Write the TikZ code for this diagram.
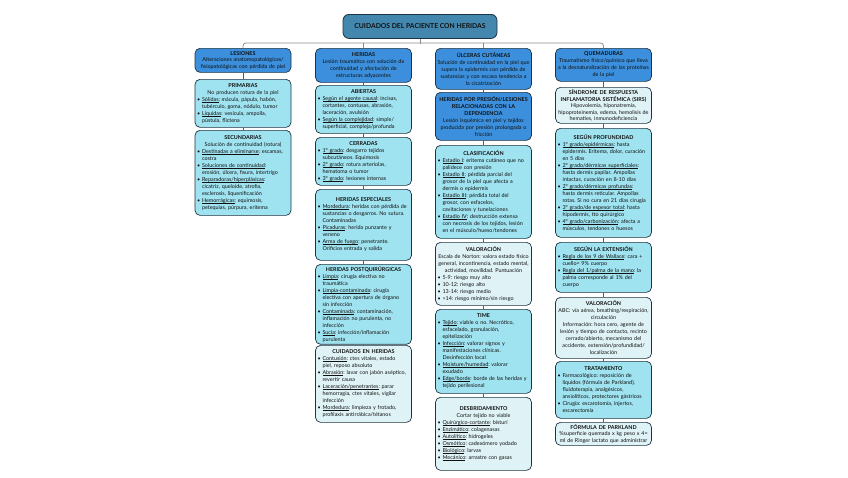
\documentclass[tikz,border=0pt]{standalone}
\usepackage{fontspec}
\setmainfont{Lato}
\usetikzlibrary{calc}
\definecolor{titlefill}{HTML}{4387AE}
\definecolor{headfill}{HTML}{3B8FDC}
\definecolor{cyanfill}{HTML}{A0E3F0}
\definecolor{lightfill}{HTML}{DFF3F7}
\definecolor{edgecol}{HTML}{1E3442}
\definecolor{txt}{HTML}{111111}
\definecolor{buscol}{HTML}{8C8C8C}
\frenchspacing
\newcommand{\uln}[1]{\setbox0\hbox{#1}\rlap{\rule[-0.9pt]{\wd0}{0.35pt}}\box0}
\newcommand{\bitem}[1]{{\let\\\newline\par\hangindent=5pt\hangafter=1\noindent\makebox[5pt][l]{\textbullet}#1\par}}
\newcommand{\ctr}[1]{{\centering #1\par}}
\newcommand{\ttl}[1]{{\centering\bfseries #1\par}}
\tikzset{
  box/.style={draw=edgecol, line width=0.7pt, rounded corners=5pt, text width=92pt,
    inner xsep=2pt, inner ysep=2pt, align=left, text=txt, anchor=north,
    font=\fontsize{5.4}{7}\selectfont\frenchspacing},
  tight/.style={inner ysep=1pt, font=\fontsize{5.4}{6.5}\selectfont\frenchspacing},
  cbox/.style={box, fill=cyanfill},
  lbox/.style={box, fill=lightfill},
  hbox/.style={box, fill=headfill},
  link/.style={draw=edgecol!80, line width=0.6pt},
  bus/.style={draw=buscol, line width=0.8pt, rounded corners=3pt}
}
\begin{document}
\begin{tikzpicture}[x=1pt, y=1pt]
\useasboundingbox[fill=white] (0,0) rectangle (848,-477);
% title
\node[draw=edgecol, line width=0.8pt, rounded corners=6pt, fill=titlefill, text=txt,
  minimum width=154pt, minimum height=24pt, anchor=north,
  font=\fontsize{6.8}{8}\selectfont\bfseries] (title) at (420,-14) {CUIDADOS DEL PACIENTE CON HERIDAS};
% headers
\node[hbox, tight, minimum height=24pt] (h1) at (243,-48) {\ttl{LESIONES}\ctr{Alteraciones anatomopatológicas/\\fisiopatológicas con pérdida de piel}};
\node[hbox, minimum height=34pt] (h2) at (363.5,-48) {\ttl{HERIDAS}\ctr{Lesión traumática con solución de\\continuidad y afectación de\\estructuras adyacentes}};
\node[hbox, minimum height=41pt] (h3) at (483.5,-48) {\ttl{ÚLCERAS CUTÁNEAS}\ctr{Solución de continuidad en la piel que\\supera la epidermis con pérdida de\\sustancias y con escasa tendencia a\\la cicatrización}};
\node[hbox, minimum height=33pt] (h4) at (603.5,-48) {\ttl{QUEMADURAS}\ctr{Traumatismo físico/químico que lleva\\a la desnaturalización de las proteínas\\de la piel}};
% bus
\draw[bus] (title.south) -- ++(0,-5);
\draw[bus] (h1.north) -- ++(0,5) -- ($(h4.north)+(0,5)$) -- (h4.north);
\draw[bus] (h2.north) -- ++(0,5);
\draw[bus] (h3.north) -- ++(0,5);
% column 1
\node[cbox, minimum height=48pt] (prim) at (243,-79) {\ttl{PRIMARIAS}\ctr{No producen rotura de la piel}
\bitem{\uln{Sólidas}: mácula, pápula, habón,\\tubérculo, goma, nódulo, tumor}
\bitem{\uln{Líquidas}: vesícula, ampolla,\\pústula, flictena}};
\node[cbox, minimum height=85pt] (sec) at (243,-130) {\ttl{SECUNDARIAS}\ctr{Solución de continuidad (rotura)}
\bitem{\uln{Destinadas a eliminarse}: escamas,\\costra}
\bitem{\uln{Soluciones de continuidad}:\\erosión, úlcera, fisura, intertrigo}
\bitem{\uln{Reparadoras/hiperplásicas}:\\cicatriz, queloide, atrofia,\\esclerosis, liquenificación}
\bitem{\uln{Hemorrágicas}: equimosis,\\petequias, púrpura, eritema}};
\draw[link] (h1.south) -- (prim.north);
\draw[link] (prim.south) -- (sec.north);
% column 2
\node[cbox, minimum height=48pt] (abi) at (363.5,-85) {\ttl{ABIERTAS}
\bitem{\uln{Según el agente causal}: incisas,\\cortantes, contusas, abrasión,\\laceración, avulsión}
\bitem{\uln{Según la complejidad}: simple/\\superficial, compleja/profunda}};
\node[cbox, minimum height=48pt] (cer) at (363.5,-137) {\ttl{CERRADAS}
\bitem{\uln{1º grado}: desgarro tejidos\\subcutáneos. Equimosis}
\bitem{\uln{2º grado}: rotura arteriolas,\\hematoma o tumor}
\bitem{\uln{3º grado}: lesiones internas}};
\node[cbox, minimum height=71pt] (esp) at (363.5,-189) {\ttl{HERIDAS ESPECIALES}
\bitem{\uln{Mordedura}: heridas con pérdida de\\sustancias o desgarros. No sutura.\\Contaminadas}
\bitem{\uln{Picaduras}: herida punzante y\\veneno}
\bitem{\uln{Arma de fuego}: penetrante.\\Orificios entrada y salida}};
\node[cbox, minimum height=78pt] (pos) at (363.5,-264) {\ttl{HERIDAS POSTQUIRÚRGICAS}
\bitem{\uln{Limpia}: cirugía electiva no\\traumática}
\bitem{\uln{Limpia-contaminada}: cirugía\\electiva con apertura de órgano\\sin infección}
\bitem{\uln{Contaminada}: contaminación,\\inflamación no purulenta, no\\infección}
\bitem{\uln{Sucia}: infección/inflamación\\purulenta}};
\node[lbox, minimum height=77pt] (cui) at (363.5,-345) {\ttl{CUIDADOS EN HERIDAS}
\bitem{\uln{Contusión}: ctes vitales, estado\\piel, reposo absoluto}
\bitem{\uln{Abrasión}: lavar con jabón aséptico,\\revertir causa}
\bitem{\uln{Laceración/penetrantes}: parar\\hemorragia, ctes vitales, vigilar\\infección}
\bitem{\uln{Mordedura}: limpieza y frotado,\\profilaxis antirrábica/tétanos}};
\draw[link] (h2.south) -- (abi.north);
\draw[link] (abi.south) -- (cer.north);
\draw[link] (cer.south) -- (esp.north);
\draw[link] (esp.south) -- (pos.north);
\draw[link] (pos.south) -- (cui.north);
% column 3
\node[hbox, minimum height=48pt] (pre) at (483.5,-92) {\ttl{HERIDAS POR PRESIÓN/LESIONES\\RELACIONADAS CON LA\\DEPENDENCIA}\ctr{Lesión isquémica en piel y tejidos\\producida por presión prolongada o\\fricción}};
\node[cbox, minimum height=93pt] (cla) at (483.5,-145) {\ttl{CLASIFICACIÓN}
\bitem{\uln{Estadio I}: eritema cutáneo que no\\palidece con presión}
\bitem{\uln{Estadio II}: pérdida parcial del\\grosor de la piel que afecta a\\dermis o epidermis}
\bitem{\uln{Estadio III}: pérdida total del\\grosor, con esfacelos,\\cavitaciones y tunelaciones}
\bitem{\uln{Estadio IV}: destrucción extensa\\con necrosis de los tejidos, lesión\\en el músculo/hueso/tendones}};
\node[lbox, minimum height=63pt] (val3) at (483.5,-242) {\ttl{VALORACIÓN}\ctr{Escala de Norton: valora estado físico\\general, incontinencia, estado mental,\\actividad, movilidad. Puntuación}
\bitem{5-9: riesgo muy alto}
\bitem{10-12: riesgo alto}
\bitem{13-14: riesgo medio}
\bitem{>14: riesgo mínimo/sin riesgo}};
\node[cbox, minimum height=84pt] (tim) at (483.5,-309) {\ttl{TIME}
\bitem{\uln{Tejido}: viable o no. Necrótico,\\esfacelado, granulación,\\epitelización}
\bitem{\uln{Infección}: valorar signos y\\manifestaciones clínicas.\\Desinfección local}
\bitem{\uln{Moisture/humedad}: valorar\\exudado}
\bitem{\uln{Edge/borde}: borde de las heridas y\\tejido perilesional}};
\node[lbox, minimum height=73pt] (des) at (483.5,-397) {\ttl{DESBRIDAMIENTO}\ctr{Cortar tejido no viable}
\bitem{\uln{Quirúrgico-cortante}: bisturí}
\bitem{\uln{Enzimático}: colagenasas}
\bitem{\uln{Autolítico}: hidrogeles}
\bitem{\uln{Osmótico}: cadexómero yodado}
\bitem{\uln{Biológico}: larvas}
\bitem{\uln{Mecánico}: arrastre con gasas}};
\draw[link] (h3.south) -- (pre.north);
\draw[link] (pre.south) -- (cla.north);
\draw[link] (cla.south) -- (val3.north);
\draw[link] (val3.south) -- (tim.north);
\draw[link] (tim.south) -- (des.north);
% column 4
\node[lbox, tight, minimum height=36pt] (sir) at (603.5,-87) {\ttl{SÍNDROME DE RESPUESTA\\INFLAMATORIA SISTÉMICA (SIRS)}\ctr{Hipovolemia, hiponatremia,\\hipoproteinemia, edema, hemolisis de\\hematíes, inmunodeficiencia}};
\node[cbox, minimum height=109pt] (pro) at (603.5,-128) {\ttl{SEGÚN PROFUNDIDAD}
\bitem{\uln{1º grado/epidérmicas}: hasta\\epidermis. Eritema, dolor, curación\\en 5 días}
\bitem{\uln{2º grado/dérmicas superficiales}:\\hasta dermis papilar. Ampollas\\intactas, curación en 8-10 días}
\bitem{\uln{2º grado/dérmicas profundas}:\\hasta dermis reticular. Ampollas\\rotas. Si no cura en 21 días cirugía}
\bitem{\uln{3º grado/de espesor total}: hasta\\hipodermis, tto quirúrgico}
\bitem{\uln{4º grado/carbonización}: afecta a\\músculos, tendones o huesos}};
\node[cbox, minimum height=50pt] (ext) at (603.5,-242) {\ttl{SEGÚN LA EXTENSIÓN}
\bitem{\uln{Regla de los 9 de Wallace}: cara +\\cuello= 9\% cuerpo}
\bitem{\uln{Regla del 1/palma de la mano}: la\\palma corresponde al 1\% del\\cuerpo}};
\node[lbox, minimum height=61pt] (val4) at (603.5,-297) {\ttl{VALORACIÓN}\ctr{ABC: vía aérea, breathing/respiración,\\circulación\\Información: hora cero, agente de\\lesión y tiempo de contacto, recinto\\cerrado/abierto, mecanismo del\\accidente, extensión/profundidad/\\localización}};
\node[cbox, minimum height=57pt] (tra) at (603.5,-361) {\ttl{TRATAMIENTO}
\bitem{Farmacológico: reposición de\\líquidos (fórmula de Parkland),\\fluidoterapia, analgésicos,\\ansiolíticos, protectores gástricos}
\bitem{Cirugía: escarotomía, injertos,\\escarectomía}};
\node[lbox, tight, minimum height=23pt] (par) at (603.5,-422) {\ttl{FÓRMULA DE PARKLAND}\ctr{\%superficie quemada x kg peso x 4=\\ml de Ringer lactato que administrar}};
\draw[link] (h4.south) -- (sir.north);
\draw[link] (sir.south) -- (pro.north);
\draw[link] (pro.south) -- (ext.north);
\draw[link] (ext.south) -- (val4.north);
\draw[link] (val4.south) -- (tra.north);
\draw[link] (tra.south) -- (par.north);
\end{tikzpicture}
\end{document}
